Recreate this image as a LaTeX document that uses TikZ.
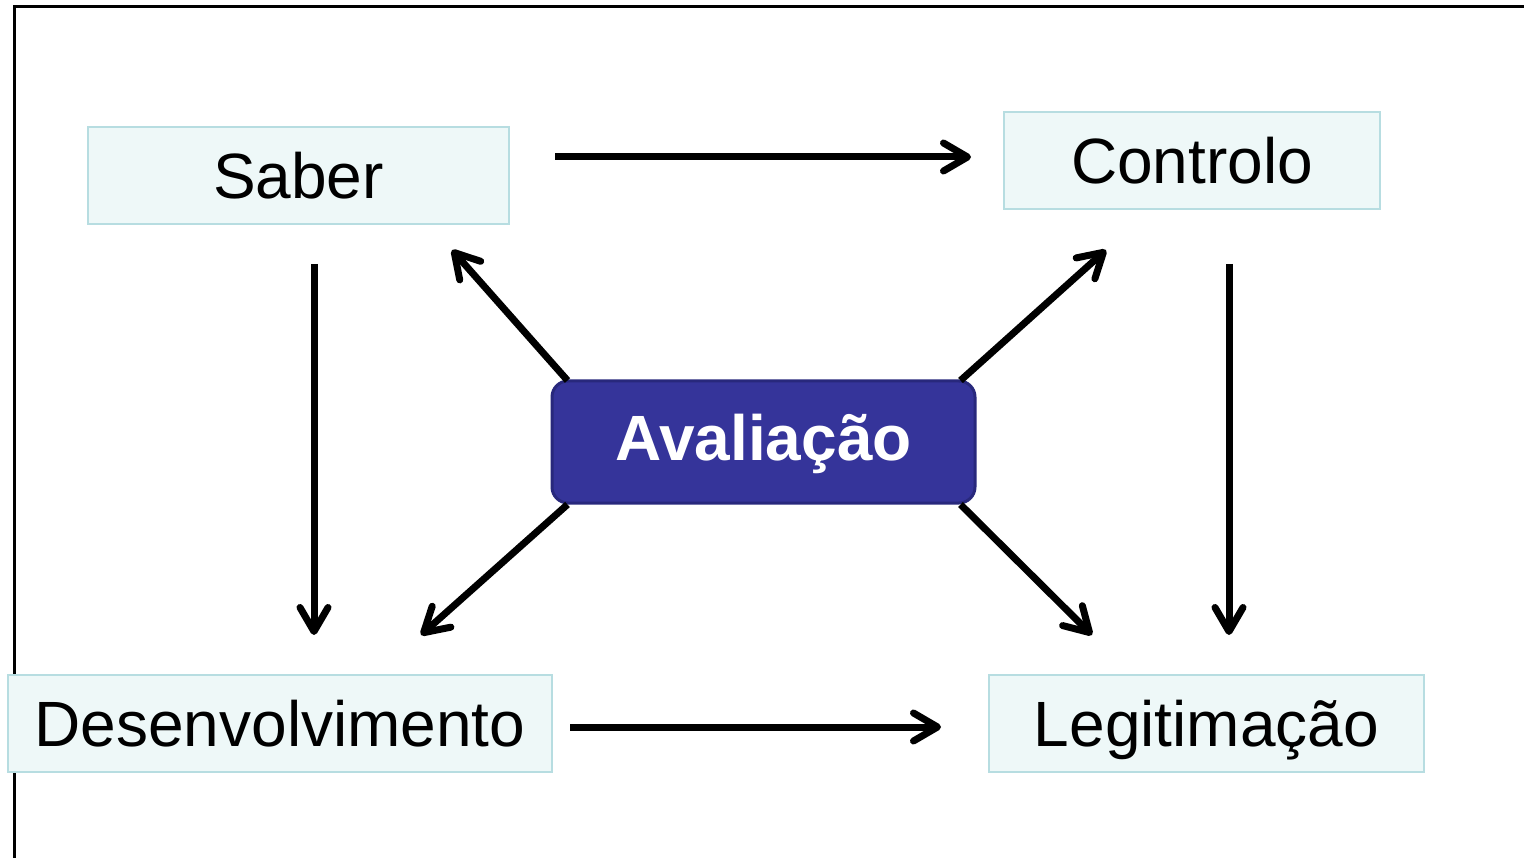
\documentclass[tikz,border=0pt]{standalone}
\usepackage{fontspec}
\setmainfont{Liberation Sans}
\usetikzlibrary{arrows.meta,calc}
\definecolor{boxfill}{HTML}{EEF8F8}
\definecolor{boxline}{HTML}{B7DDE1}
\definecolor{avfill}{HTML}{35349A}
\definecolor{avline}{HTML}{28287C}
\tikzset{
  topic/.style={draw=boxline, fill=boxfill, line width=2pt, inner sep=0pt,
    text height=46pt, text depth=0pt,
    font=\fontsize{64}{70}\selectfont, text=black},
  centre/.style={draw=avline, fill=avfill, line width=3pt, rounded corners=16pt, inner sep=0pt,
    text height=37pt, text depth=0pt,
    font=\fontsize{64}{70}\selectfont\bfseries, text=white},
  link/.style={line width=7pt, -{Straight Barb[length=24pt,width=28pt,round]}},
}
\begin{document}
\begin{tikzpicture}[x=1pt,y=-1pt]
\useasboundingbox (0,0) rectangle (1524,858);
\draw[line width=3pt] (14,858) -- (14,7) -- (1524,7);
\node[topic, minimum width=421pt, minimum height=97pt] (saber) at (298.5,175.5) {Saber};
\node[topic, minimum width=376pt, minimum height=97pt] (controlo) at (1192,160.5) {Controlo};
\node[topic, minimum width=544pt, minimum height=97pt] (desenv) at (280,723.5) {Desenvolvimento};
\node[topic, minimum width=435pt, minimum height=97pt] (legit) at (1206.5,723.5) {Legitimação};
\node[centre, minimum width=423pt, minimum height=122pt] (aval) at (763.5,442) {Avaliação};
% horizontal
\draw[link] ($(saber.east)+(45,-18.5)$) -- ($(controlo.west)+(-32,-3.5)$);
\draw[link] ($(desenv.east)+(17,3.5)$) -- ($(legit.west)+(-47,3.5)$);
% vertical
\draw[link] ($(saber.south)+(15.5,39)$) -- ($(desenv.north)+(34,-39)$);
\draw[link] ($(controlo.south)+(37,54)$) -- ($(legit.north)+(22.5,-39)$);
% diagonals
\draw[link] ($(aval.north west)+(17,1)$) -- ($(saber.south east)+(-58,25)$);
\draw[link] ($(aval.north east)+(-16,1)$) -- ($(controlo.south west)+(103,40)$);
\draw[link] ($(aval.south west)+(17,0)$) -- ($(desenv.north)+(141,-39)$);
\draw[link] ($(aval.south east)+(-16,0)$) -- ($(legit.north)+(-114.5,-39)$);
\end{tikzpicture}
\end{document}
